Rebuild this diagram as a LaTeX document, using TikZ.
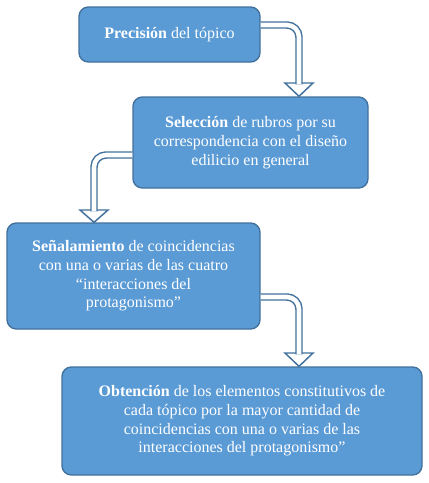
\documentclass[tikz,border=0pt]{standalone}
\usepackage{fontspec}
\setmainfont{Liberation Serif}
\definecolor{cajaazul}{HTML}{5B9BD5}
\definecolor{bordeazul}{HTML}{41719C}

\begin{document}
\begin{tikzpicture}[x=0.75pt, y=-0.75pt,
    caja/.style={draw=bordeazul, fill=cajaazul, line width=1pt, rounded corners=7pt,
        text=white, align=center, inner sep=2pt, font=\fontsize{12}{14}\selectfont},
    flecha/.style={draw=bordeazul, line width=1.1pt, double=white, double distance=3.4pt, rounded corners=9pt},
    punta/.style={draw=bordeazul, fill=white, line width=1.1pt, line join=miter}]
    \fill[white] (0,0) rectangle (429,483);

    % 1. Cajas
    \node[caja, minimum width=135.75pt, minimum height=41.25pt] (precision) at (169.5,34.5)
        {\textbf{Precisión} del tópico};
    \node[caja, minimum width=176.25pt, minimum height=68.25pt] (seleccion) at (250.5,142.5)
        {\textbf{Selección} de rubros por su\\correspondencia con el diseño\\edilicio en general};
    \node[caja, minimum width=189.75pt, minimum height=79.5pt] (senalamiento) at (133.5,276)
        {\textbf{Señalamiento} de coincidencias\\con una o varias de las cuatro\\“interacciones del\\protagonismo”};
    \node[caja, minimum width=270pt, minimum height=81pt] (obtencion) at (242,421)
        {\textbf{Obtención} de los elementos constitutivos de\\cada tópico por la mayor cantidad de\\coincidencias con una o varias de las\\interacciones del protagonismo”};

    % 2. Flechas huecas
    \coordinate (b1) at (299,83);
    \coordinate (b2) at (94,210);
    \coordinate (b3) at (299,353);
    \draw[punta] ([xshift=-10.5pt]b1) -- ([xshift=10.5pt]b1) -- (b1 |- seleccion.north) -- cycle;
    \draw[punta] ([xshift=-10.5pt]b2) -- ([xshift=10.5pt]b2) -- (b2 |- senalamiento.north) -- cycle;
    \draw[punta] ([xshift=-10.5pt]b3) -- ([xshift=10.5pt]b3) -- (b3 |- obtencion.north) -- cycle;
    \draw[flecha] (precision.east |- 0,25) -| ([yshift=-1pt]b1);
    \draw[flecha] (seleccion.west |- 0,155) -| ([yshift=-1pt]b2);
    \draw[flecha] (senalamiento.east |- 0,297) -| ([yshift=-1pt]b3);
\end{tikzpicture}
\end{document}
